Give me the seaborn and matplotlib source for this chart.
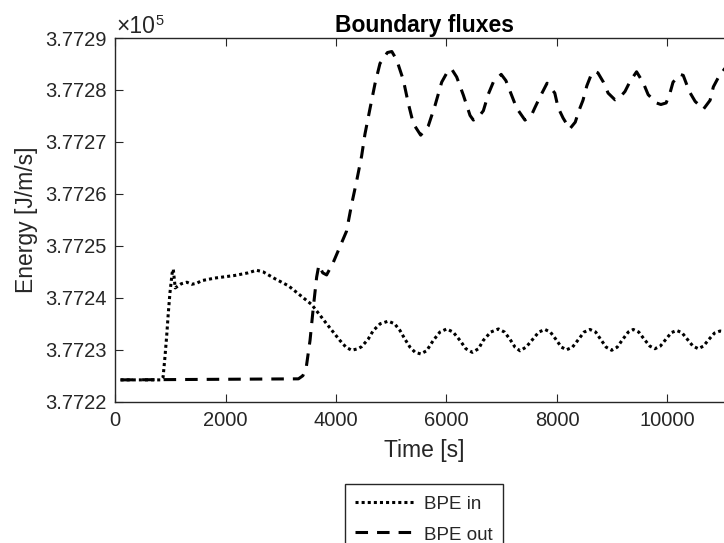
import matplotlib
matplotlib.use("Agg")
import matplotlib.pyplot as plt
import seaborn as sns
import numpy as np
import pandas as pd
from matplotlib.ticker import FuncFormatter, MultipleLocator

# ---------------- data ----------------
t_in = [100, 830, 870, 905, 935, 965, 995, 1035, 1055, 1090, 1200, 1300, 1390, 1480,
        1570, 1810, 2170, 2410, 2560, 2680, 2890, 3140, 3350, 3560, 3830, 4070, 4180,
        4283, 4400, 4464, 4580, 4675, 4800, 4946, 5060, 5158, 5250, 5339, 5432, 5532,
        5640, 5761, 5880, 6003, 6120, 6244, 6350, 6467, 6580, 6666, 6800, 6940, 7050,
        7150, 7240, 7330, 7440, 7560, 7670, 7782, 7880, 7980, 8080, 8175, 8280, 8390,
        8490, 8597, 8700, 8790, 8890, 8990, 9090, 9190, 9290, 9380, 9480, 9580, 9680,
        9773, 9870, 9970, 10070, 10166, 10260, 10360, 10460, 10557, 10650, 10750,
        10850, 10950, 11100, 11200]
bpe_in = [377224.2, 377224.2, 377224.7, 377228.7, 377232.6, 377237.1, 377241.0, 377244.8,
          377245.5, 377241.9, 377242.7, 377243.0, 377242.6, 377242.8, 377243.3, 377243.8,
          377244.3, 377244.8, 377245.3, 377245.0, 377243.7, 377242.3, 377240.5, 377238.7,
          377235.0, 377231.8, 377230.5, 377229.9, 377230.2, 377230.6, 377232.0, 377233.7,
          377235.0, 377235.5, 377235.0, 377233.7, 377232.0, 377230.5, 377229.5, 377229.2,
          377229.8, 377231.8, 377233.4, 377234.0, 377233.4, 377231.8, 377230.2, 377229.5,
          377230.2, 377231.8, 377233.4, 377234.0, 377233.4, 377232.0, 377230.5, 377229.8,
          377230.5, 377232.0, 377233.4, 377233.9, 377233.4, 377232.0, 377230.5, 377230.0,
          377230.5, 377232.0, 377233.4, 377233.9, 377233.4, 377232.0, 377230.5, 377229.9,
          377230.5, 377232.0, 377233.4, 377233.9, 377233.4, 377232.0, 377230.7, 377230.2,
          377230.7, 377232.0, 377233.3, 377233.7, 377233.3, 377232.0, 377230.7, 377230.2,
          377230.7, 377232.0, 377233.2, 377233.6, 377233.4, 377232.6]

t_out = [100, 3320, 3400, 3460, 3530, 3590, 3650, 3690, 3760, 3830, 3950, 4070, 4190,
         4283, 4374, 4464, 4524, 4615, 4706, 4796, 4930, 5010, 5098, 5219, 5309, 5400,
         5533, 5671, 5792, 5913, 6033, 6094, 6184, 6305, 6426, 6486, 6580, 6667, 6757,
         6847, 6990, 7075, 7200, 7270, 7420, 7540, 7600, 7690, 7820, 7960, 8020, 8110,
         8230, 8330, 8400, 8470, 8540, 8610, 8680, 8740, 8840, 8925, 9050, 9140, 9230,
         9320, 9440, 9560, 9650, 9800, 9880, 9975, 10045, 10100, 10230, 10285, 10395,
         10500, 10650, 10770, 10830, 10920, 11050, 11200]
bpe_out = [377224.2, 377224.4, 377225.0, 377226.5, 377231.8, 377238.2, 377244.0, 377246.3,
           377244.8, 377244.4, 377246.8, 377249.8, 377252.8, 377258.0, 377262.5, 377267.3,
           377271.5, 377276.4, 377281.2, 377285.1, 377287.2, 377287.4, 377285.8, 377281.9,
           377277.4, 377273.5, 377271.3, 377273.1, 377277.0, 377281.5, 377283.8, 377284.0,
           377282.5, 377279.0, 377275.1, 377274.2, 377274.8, 377276.0, 377279.2, 377281.5,
           377283.0, 377281.8, 377278.4, 377276.5, 377274.2, 377275.2, 377276.6, 377278.6,
           377281.3, 377279.4, 377276.6, 377274.6, 377272.5, 377273.8, 377276.1, 377278.0,
           377280.8, 377282.7, 377283.6, 377283.3, 377281.5, 377279.4, 377278.1, 377278.6,
           377279.7, 377281.6, 377283.5, 377281.4, 377279.1, 377277.5, 377277.2, 377277.5,
           377279.4, 377281.5, 377283.0, 377282.8, 377279.7, 377277.8, 377276.3, 377278.0,
           377280.6, 377282.4, 377284.3, 377285.0]

x_ticks = [0, 2000, 4000, 6000, 8000, 10000]
series_labels = ["BPE in", "BPE out"]
title = "Boundary fluxes"
xlabel = "Time [s]"
ylabel = "Energy [J/m/s]"

# ---------------- style ----------------
sns.set_theme(style="ticks")
plt.rcParams["font.family"] = ["Liberation Sans", "DejaVu Sans"]

W, H = 724, 543
fig = plt.figure(figsize=(W / 100, H / 100), dpi=100)
ax_left, ax_right, ax_top, ax_bottom = 115, 733.8, 38, 401.7
ax = fig.add_axes([ax_left / W, (H - ax_bottom) / H,
                   (ax_right - ax_left) / W, (ax_bottom - ax_top) / H])

df_in = pd.DataFrame({"t": t_in, "E": bpe_in})
df_out = pd.DataFrame({"t": t_out, "E": bpe_out})

sns.lineplot(data=df_in, x="t", y="E", ax=ax, color="black", lw=2.2,
             estimator=None, sort=False, label=series_labels[0])
l1 = ax.lines[-1]
l1.set_dashes([1, 1])
l1.set_dash_capstyle("butt")

sns.lineplot(data=df_out, x="t", y="E", ax=ax, color="black", lw=2.2,
             estimator=None, sort=False, label=series_labels[1])
l2 = ax.lines[-1]
l2.set_dashes([4.1, 2.95])
l2.set_dash_capstyle("butt")

ax.set_xlim(0, 11200)
ax.set_ylim(377220, 377290)
ax.set_xticks(x_ticks)
ax.yaxis.set_major_locator(MultipleLocator(10))
ax.yaxis.set_major_formatter(FuncFormatter(lambda v, p: f"{v / 1e5:.4f}"))

axis_col = "#262626"
for s in ax.spines.values():
    s.set_color(axis_col)
    s.set_linewidth(1.0)
    s.set_visible(True)
ax.tick_params(direction="in", length=6, width=0.8, color=axis_col,
               labelcolor=axis_col, labelsize=14.5, top=True, right=True)
ax.tick_params(axis="x", pad=7)
ax.tick_params(axis="y", pad=6)

ax.set_xlabel(xlabel, fontsize=16.5, color=axis_col, labelpad=6)
ax.set_ylabel(ylabel, fontsize=16.5, color=axis_col, labelpad=5)
ax.set_title(title, fontsize=16.5, fontweight="bold", color="black", pad=4)

# MATLAB-style exponent label
ax.annotate("\u00d710", xy=(0, 1), xycoords="axes fraction",
            xytext=(1.0, 3.6), textcoords="offset points", ha="left", va="baseline",
            fontsize=16.5, color=axis_col)
ax.annotate("5", xy=(0, 1), xycoords="axes fraction",
            xytext=(29.0, 9.6), textcoords="offset points", ha="left", va="baseline",
            fontsize=10.5, color=axis_col)

leg = ax.legend(loc="upper center",
                bbox_to_anchor=((424 - ax_left) / (ax_right - ax_left),
                                (ax_bottom - 484) / (ax_bottom - ax_top)),
                fontsize=13.5, frameon=True, fancybox=False, framealpha=1,
                edgecolor=axis_col, handlelength=3.15, handletextpad=0.5,
                handleheight=1.0, labelspacing=0.62, borderpad=0.55, borderaxespad=0)
leg.get_frame().set_linewidth(1.0)

fig.savefig("out.png", dpi=100)
